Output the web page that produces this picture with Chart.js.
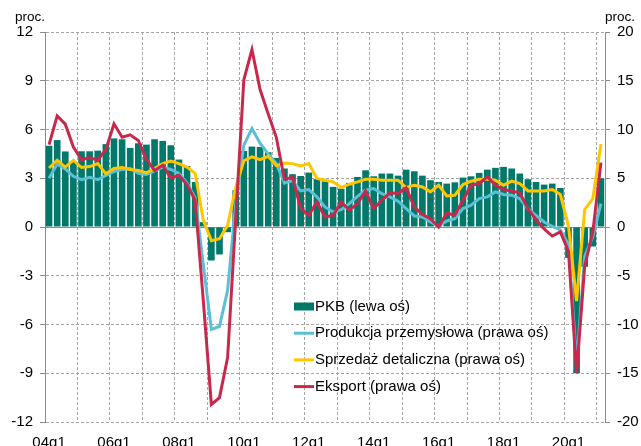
<!DOCTYPE html>
<html lang="pl">
  <head>
    <meta charset="UTF-8" />
    <script src="https://cdn.jsdelivr.net/npm/chart.js"></script>
    <title>PKB, produkcja, sprzedaż, eksport</title>
    <style>
      html, body { margin: 0; padding: 0; background: #fff; }
    </style>
  </head>
  <body>
    <canvas id="chart" width="641" height="446"></canvas>

    <script>
      // kwartały 04q1 ... 21q1
      const years = ["04", "05", "06", "07", "08", "09", "10", "11", "12", "13", "14", "15", "16", "17", "18", "19", "20", "21"];
      const quarters = [];
      years.forEach(y => ["q1", "q2", "q3", "q4"].forEach(q => quarters.push(y + q)));
      quarters.length = 69;

      const xTickLabels = ["04q1", "06q1", "08q1", "10q1", "12q1", "14q1", "16q1", "18q1", "20q1"];

      // PKB r/r (lewa oś)
      const pkb = [
        5.0, 5.35, 4.65, 4.0, 4.66, 4.66, 4.7, 5.1, 5.45, 5.4, 4.87, 5.15, 5.07, 5.4, 5.3, 5.03, 4.15, 3.75, 2.77, 0.3,
        -2.06, -1.69, -0.32, 2.26, 4.68, 4.95, 4.93, 4.6, 4.25, 3.6, 3.25, 3.14, 3.35, 2.96,
        2.81, 2.47, 2.36, 2.71, 3.08, 3.49, 3.12, 3.29, 3.29, 3.16, 3.53, 3.43, 3.16, 2.88, 2.77, 2.67, 2.75, 3.04, 3.12, 3.33,
        3.53, 3.64, 3.7, 3.6, 3.29, 2.94, 2.77, 2.61, 2.67, 2.4,
        -1.9, -9.0, -2.45, -1.2, 3.0
      ];

      // produkcja przemysłowa (prawa oś)
      const produkcja = [
        5.0, 6.45, 5.95, 5.2, 4.85, 5.1, 4.85, 5.28, 5.7, 5.9, 6.0, 5.5, 5.4, 5.75, 6.15, 5.9, 5.5, 4.5, 3.0, -3.8,
        -10.5, -10.2, -6.5, 2.4, 8.4, 10.1, 8.6, 7.5, 6.5, 4.5, 4.75, 3.7, 3.84, 3.09,
        2.06, 1.54, 1.78, 2.4, 3.15, 3.77, 3.94, 3.43, 3.09, 2.64, 1.89, 1.13, 1.03, 0.51, 0.07, 0.62, 0.86, 1.89, 2.23, 2.91,
        3.09, 3.6, 3.33, 3.26, 2.91, 1.89, 1.2, 0.51, 0.07, -0.3,
        -1.8, -14.0, -3.0, -1.0, 2.4
      ];

      // sprzedaż detaliczna (prawa oś)
      const sprzedaz = [
        6.05, 6.85, 6.15, 6.85, 6.1, 6.2, 6.5, 5.45, 6.0, 6.1, 5.9, 5.8, 5.55, 6.0, 6.5, 6.75, 6.5, 6.15, 5.5, 0.7,
        -1.4, -1.2, 0.17, 4.1, 6.8, 7.2, 6.9, 7.25, 6.3, 6.55, 6.5, 6.27, 6.5, 4.97,
        4.8, 4.63, 4.05, 4.39, 4.63, 4.9, 4.9, 4.8, 4.8, 4.8, 4.05, 4.29, 4.11, 3.6, 4.29, 3.19, 3.26, 4.35, 4.7, 4.9,
        4.9, 4.8, 4.29, 4.7, 4.46, 3.7, 3.7, 3.7, 3.84, 3.33,
        0.1, -7.6, 1.8, 2.9, 8.5
      ];

      // eksport (prawa oś)
      const eksport = [
        8.45, 11.4, 10.55, 8.2, 6.9, 7.13, 6.85, 7.95, 10.58, 9.2, 9.45, 8.87, 6.93, 5.8, 6.33, 5.03, 5.3, 4.35, 2.74, -7.5,
        -18.2, -17.5, -13.4, 0.9, 15.1, 18.2, 14.1, 11.6, 9.2, 4.9, 5.1, 1.9, 1.2, 2.57,
        1.03, 1.2, 2.57, 1.71, 2.4, 3.7, 1.89, 2.74, 3.5, 3.43, 4.01, 2.06, 1.27, 0.86, 0.0, 1.44, 1.2, 2.74, 4.29, 4.46,
        5.14, 4.29, 3.84, 3.7, 3.5, 1.89, 0.75, -0.2, -0.93, -0.5,
        -2.5, -15.0, -4.0, -0.5, 6.6
      ];

      const FONT = '"Liberation Sans", Arial, sans-serif';
      const gridColor = "#a6a6a6";
      const axisColor = "#8c8c8c";

      // legenda wewnątrz wykresu + opisy "proc."
      const insideLegend = {
        id: "insideLegend",
        afterDraw(chart) {
          const { ctx, chartArea } = chart;
          const x = chartArea.left + 249;
          ctx.save();
          ctx.font = "15px " + FONT;
          ctx.textBaseline = "middle";
          ctx.textAlign = "left";
          chart.data.datasets.forEach((ds, i) => {
            const y = chartArea.top + 274.5 + i * 26.7;
            if (ds.type === "line") {
              ctx.strokeStyle = ds.borderColor;
              ctx.lineWidth = 3;
              ctx.beginPath();
              ctx.moveTo(x, y);
              ctx.lineTo(x + 20, y);
              ctx.stroke();
            } else {
              ctx.fillStyle = ds.backgroundColor;
              ctx.fillRect(x, y - 4, 20, 8);
            }
            ctx.fillStyle = "#000";
            ctx.fillText(ds.label, x + 21, y);
          });
          ctx.font = "13.5px " + FONT;
          ctx.textBaseline = "alphabetic";
          ctx.fillText("proc.", 15, 21);
          ctx.fillText("proc.", chartArea.right, 21);
          ctx.restore();
        },
      };

      new Chart(document.getElementById("chart"), {
        type: "bar",
        data: {
          labels: quarters,
          datasets: [
            {
              label: "PKB (lewa oś)",
              data: pkb,
              yAxisID: "yL",
              backgroundColor: "#00796b",
              barPercentage: 0.82,
              categoryPercentage: 1.0,
              order: 4,
            },
            {
              type: "line",
              label: "Produkcja przemysłowa (prawa oś)",
              data: produkcja,
              yAxisID: "yR",
              borderColor: "#5bbfd5",
              borderWidth: 3,
              pointRadius: 0,
              tension: 0,
              order: 3,
            },
            {
              type: "line",
              label: "Sprzedaż detaliczna (prawa oś)",
              data: sprzedaz,
              yAxisID: "yR",
              borderColor: "#ffc600",
              borderWidth: 3,
              pointRadius: 0,
              tension: 0,
              order: 2,
            },
            {
              type: "line",
              label: "Eksport (prawa oś)",
              data: eksport,
              yAxisID: "yR",
              borderColor: "#c8284b",
              borderWidth: 3,
              pointRadius: 0,
              tension: 0,
              order: 1,
            },
          ],
        },
        options: {
          responsive: false,
          animation: false,
          layout: { padding: { top: 32 } },
          plugins: {
            legend: { display: false },
            tooltip: { enabled: false },
          },
          scales: {
            x: {
              offset: true,
              afterFit: (s) => { s.height = 24; },
              grid: {
                offset: true,
                drawTicks: false,
                color: (c) => (c.index % 4 === 0 ? gridColor : "rgba(0,0,0,0)"),
              },
              border: { display: false, dash: [3, 2] },
              ticks: {
                autoSkip: false,
                maxRotation: 0,
                padding: 12,
                color: "#000",
                font: { family: FONT, size: 15 },
                callback: (v, i) => (xTickLabels.includes(quarters[i]) ? quarters[i] : ""),
              },
            },
            yL: {
              position: "left",
              min: -12,
              max: 12,
              afterFit: (s) => { s.width = 45; },
              grid: {
                color: (c) => (c.tick && c.tick.value === 0 ? axisColor : gridColor),
                tickColor: axisColor,
                tickLength: 5,
              },
              border: {
                display: true,
                color: axisColor,
                dash: (c) => (c.tick && c.tick.value !== 0 ? [3, 2] : []),
              },
              ticks: {
                stepSize: 3,
                padding: 7,
                color: "#000",
                font: { family: FONT, size: 15 },
              },
            },
            yR: {
              position: "right",
              min: -20,
              max: 20,
              afterFit: (s) => { s.width = 36; },
              grid: {
                drawOnChartArea: false,
                tickColor: axisColor,
                tickLength: 5,
              },
              border: { display: true, color: axisColor },
              ticks: {
                stepSize: 5,
                padding: 7,
                color: "#000",
                font: { family: FONT, size: 15 },
              },
            },
          },
        },
        plugins: [insideLegend],
      });
    </script>
  </body>
</html>
